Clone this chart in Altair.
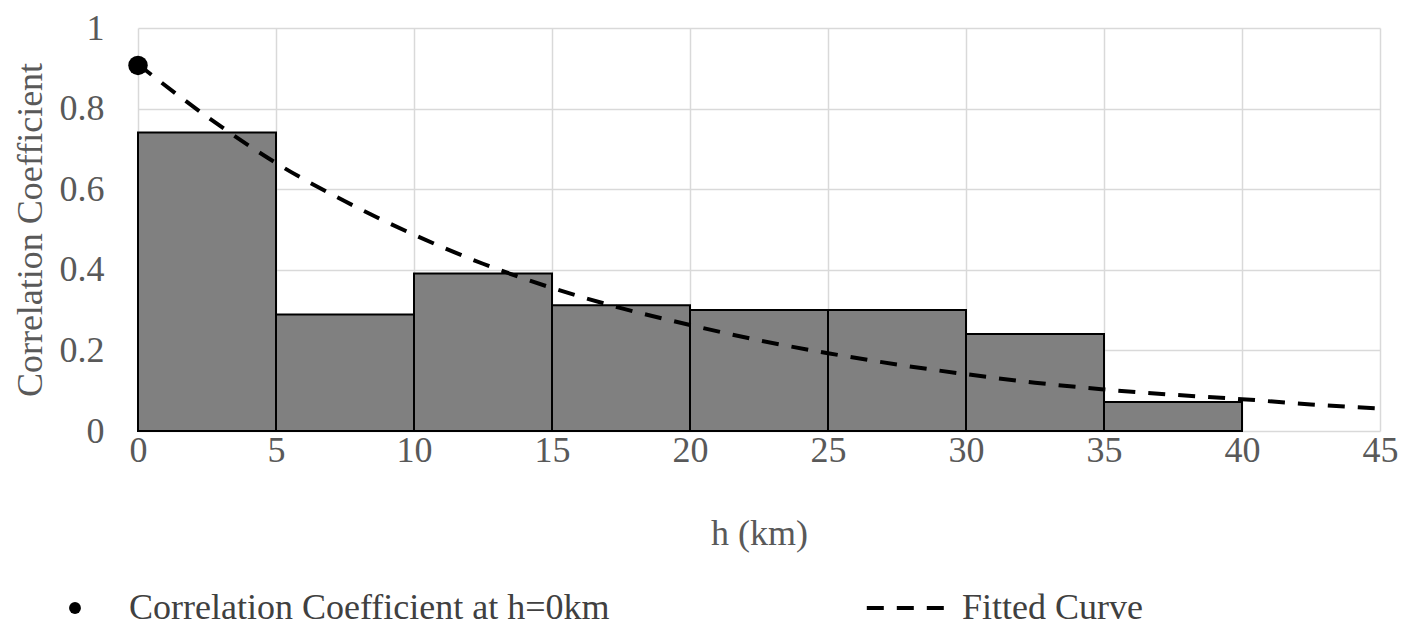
import altair as alt
import pandas as pd

# ---- data ----
bin_start = [0, 5, 10, 15, 20, 25, 30, 35]
bin_end = [5, 10, 15, 20, 25, 30, 35, 40]
bar_values = [0.741, 0.289, 0.391, 0.312, 0.300, 0.300, 0.241, 0.072]

curve_h = [0, 2.5, 5, 7.5, 10, 12.5, 15, 17.5, 20, 22.5, 25, 27.5, 30, 32.5, 35, 37.5, 40, 42.5, 45]
curve_r = [0.91, 0.78, 0.665, 0.57, 0.487, 0.415, 0.355, 0.305, 0.263, 0.225, 0.193, 0.165,
           0.141, 0.12, 0.103, 0.09, 0.079, 0.066, 0.056]

point_h = [0]
point_r = [0.907]

x_ticks = [0, 5, 10, 15, 20, 25, 30, 35, 40, 45]
y_ticks = [0, 0.2, 0.4, 0.6, 0.8, 1]

FONT = "Liberation Serif"
FS = 36
AXIS_COLOR = "#595959"
GRID = "#d9d9d9"

bars_df = pd.DataFrame({"h0": bin_start, "h1": bin_end, "r": bar_values})
curve_df = pd.DataFrame({"h": curve_h, "r": curve_r, "series": ["Fitted Curve"] * len(curve_h)})
point_df = pd.DataFrame({"h": point_h, "r": point_r,
                         "series": ["Correlation Coefficient at h=0km"] * len(point_h)})

x_scale = alt.Scale(domain=[0, 45], nice=False, zero=False)
y_scale = alt.Scale(domain=[0, 1], nice=False)

x_axis = alt.Axis(values=x_ticks, format="~g", title="h (km)", grid=True, gridColor=GRID,
                  gridWidth=1.5, domain=False, ticks=False, labelFont=FONT, labelFontSize=FS,
                  labelColor=AXIS_COLOR, labelPadding=2, titleFont=FONT, titleFontSize=FS,
                  titleFontWeight="normal", titleColor=AXIS_COLOR, titlePadding=48,
                  labelFlush=False)
y_axis = alt.Axis(values=y_ticks, format="~g", title="Correlation  Coefficient", grid=True,
                  gridColor=GRID, gridWidth=1.5, domain=False, ticks=False, labelFont=FONT,
                  labelFontSize=FS, labelColor=AXIS_COLOR, labelPadding=34, titleFont=FONT,
                  titleFontSize=FS, titleFontWeight="normal", titleColor=AXIS_COLOR,
                  titlePadding=10, labelFlush=False)

bars = alt.Chart(bars_df).mark_rect(fill="#808080", stroke="black", strokeWidth=2).encode(
    x=alt.X("h0:Q", scale=x_scale, axis=x_axis),
    x2="h1:Q",
    y=alt.Y("r:Q", scale=y_scale, axis=y_axis),
    y2=alt.datum(0),
)

curve = alt.Chart(curve_df).mark_line(stroke="black", strokeWidth=4, interpolate="monotone").encode(
    x=alt.X("h:Q", scale=x_scale),
    y=alt.Y("r:Q", scale=y_scale),
    strokeDash=alt.StrokeDash(
        "series:N",
        scale=alt.Scale(range=[[17, 13]]),
        legend=alt.Legend(title=None, orient="none", legendX=755, legendY=562, padding=0,
                          symbolType="M-6.8,0H6.8", symbolSize=169, symbolStrokeWidth=4,
                          symbolStrokeColor="black",
                          labelFont=FONT, labelFontSize=FS, labelColor="#404040",
                          labelOffset=33, labelLimit=500),
    ),
)

point = alt.Chart(point_df).mark_point(filled=True, shape="circle", size=380, opacity=1).encode(
    x=alt.X("h:Q", scale=x_scale),
    y=alt.Y("r:Q", scale=y_scale),
    color=alt.Color(
        "series:N",
        scale=alt.Scale(range=["black"]),
        legend=alt.Legend(title=None, orient="none", legendX=-81, legendY=562, padding=0,
                          symbolSize=140, symbolType="circle", symbolOpacity=1,
                          labelFont=FONT, labelFontSize=FS, labelColor="#404040",
                          labelOffset=36, labelLimit=800),
    ),
)

chart = alt.layer(bars, curve, point).properties(
    width=1242,
    height=403,
    padding={"left": 130, "top": 20, "right": 30, "bottom": 199},
    autosize=alt.AutoSizeParams(type="none"),
    background="white",
).configure_view(stroke=None)

chart.save("out.html", embed_options={"renderer": "svg", "actions": False})
